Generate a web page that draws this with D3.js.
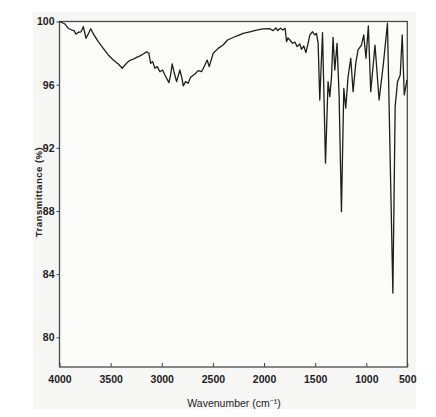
<!DOCTYPE html>
<html>
<head>
<meta charset="utf-8">
<script src="https://cdn.jsdelivr.net/npm/d3@7"></script>
<style>
  html, body { margin: 0; padding: 0; background: #ffffff; }
  svg { display: block; }
</style>
</head>
<body>
<svg id="chart" width="436" height="417"></svg>
<script>
// Wavenumber (cm^-1)
const wavenumber = [4000,3946,3914,3881,3858,3839,3816,3790,3767,3741,3719,3695,3663,3621,3572,3523,3474,3425,3386,3360,
  3328,3304,3279,3246,3213,3181,3148,3126,3109,3089,3067,3044,3018,2992,2969,2953,2930,2914,2898,2881,
  2855,2823,2803,2790,2767,2742,2718,2676,2644,2611,2578,2556,2536,2497,2448,2400,2357,2318,2269,2204,
  2139,2073,2009,1943,1911,1885,1865,1839,1816,1794,1780,1767,1747,1721,1699,1676,1650,1634,1611,1591,
  1569,1552,1526,1504,1487,1471,1455,1428,1399,1374,1357,1340,1325,1308,1286,1266,1243,1220,1201,1178,
  1152,1129,1103,1081,1047,1025,1003,975,946,894,844,791,742,676,648,619,586,562,537,504];
// Transmittance (%)
const transmittance = [100.0,99.84,99.57,99.46,99.42,99.19,99.32,99.34,99.67,98.94,99.21,99.54,99.15,98.72,98.30,97.88,97.56,97.31,97.04,97.25,
  97.46,97.56,97.61,97.73,97.82,97.94,98.09,97.99,97.35,97.46,97.04,97.14,96.82,96.93,96.61,96.41,96.13,96.61,97.31,96.82,
  96.19,96.93,96.41,95.92,96.19,96.09,96.47,96.68,96.89,96.82,97.25,97.56,97.14,97.99,98.30,98.51,98.83,98.94,99.08,99.25,
  99.35,99.46,99.53,99.54,99.42,99.59,99.43,99.57,99.46,99.57,98.72,98.96,98.83,98.62,98.70,98.41,98.58,98.24,98.45,98.03,
  98.62,99.15,99.35,99.15,99.25,98.62,95.03,99.29,91.03,96.19,95.24,96.51,99.0,96.93,98.62,95.35,87.96,95.77,94.51,96.51,
  97.67,95.56,97.35,98.20,98.51,99.15,97.67,99.72,95.56,98.51,95.03,97.35,99.89,82.80,94.61,96.19,96.61,99.15,95.35,96.30];

const xTicks = [4000,3500,3000,2500,2000,1500,1000,500];
const yTicks = [80,84,88,92,96,100];
const xTitle = "Wavenumber (cm\u207B\u00B9)";
const yTitle = "Transmittance (%)";

const svg = d3.select("#chart");
const mLeft = 59.5, mRight = 407.3, mTop = 21.5, mBottom = 367;

// scanned page background
svg.append("rect").attr("x", 33).attr("y", 12).attr("width", 383).attr("height", 397)
  .attr("fill", "#f6f6f5");
svg.append("rect").attr("x", mLeft).attr("y", mTop).attr("width", mRight-mLeft).attr("height", mBottom-mTop)
  .attr("fill", "#fbfbfa");

// The chart paper uses a compressed scale below 1000 cm-1
const x = d3.scaleLinear().domain([4000, 1000, 500]).range([mLeft, 366.3, mRight]);
const y = d3.scaleLinear().domain([78.12, 100]).range([mBottom, mTop]);

const fontTick = "'Liberation Sans Narrow', 'Arial Narrow', sans-serif";

// x axis (ticks pointing inward)
const xAxis = d3.axisBottom(x).tickValues(xTicks).tickSize(-4).tickPadding(9).tickFormat(d3.format("d"));
const gx = svg.append("g").attr("transform", `translate(0,${mBottom})`).call(xAxis);
gx.select(".domain").remove();
gx.selectAll(".tick line").attr("stroke", "#444").attr("stroke-width", 1);
gx.selectAll(".tick text").attr("font-family", fontTick).attr("font-size", 10.5)
  .attr("font-weight", "bold").attr("fill", "#222");

// y axis (ticks pointing outward)
const yAxis = d3.axisLeft(y).tickValues(yTicks).tickSize(3).tickPadding(2).tickFormat(d3.format("d"));
const gy = svg.append("g").attr("transform", `translate(${mLeft},0)`).call(yAxis);
gy.select(".domain").remove();
gy.selectAll(".tick line").attr("stroke", "#444").attr("stroke-width", 1);
gy.selectAll(".tick text").attr("font-family", fontTick).attr("font-size", 10.5)
  .attr("font-weight", "bold").attr("fill", "#222");

// frame
svg.append("rect").attr("x", mLeft).attr("y", mTop).attr("width", mRight-mLeft).attr("height", mBottom-mTop)
  .attr("fill", "none").attr("stroke", "#4a4a4a").attr("stroke-width", 1.3);

// spectrum
const data = wavenumber.map((w, i) => ({w, t: transmittance[i]}));
const line = d3.line().x(d => x(d.w)).y(d => y(d.t));
svg.append("path").datum(data).attr("d", line)
  .attr("fill", "none").attr("stroke", "#1e1e1e").attr("stroke-width", 1.3)
  .attr("stroke-linejoin", "round");

// axis titles
svg.append("text").attr("x", 234).attr("y", 407).attr("text-anchor", "middle")
  .attr("font-family", fontTick).attr("font-size", 10.5).attr("fill", "#222")
  .text(xTitle);
svg.append("text").attr("transform", "translate(41.5,192) rotate(-90)").attr("text-anchor", "middle")
  .attr("font-family", "'Liberation Sans', Arial, sans-serif").attr("font-size", 9.5)
  .attr("font-weight", "bold").attr("fill", "#222").attr("letter-spacing", 0.5)
  .text(yTitle);
</script>
</body>
</html>
